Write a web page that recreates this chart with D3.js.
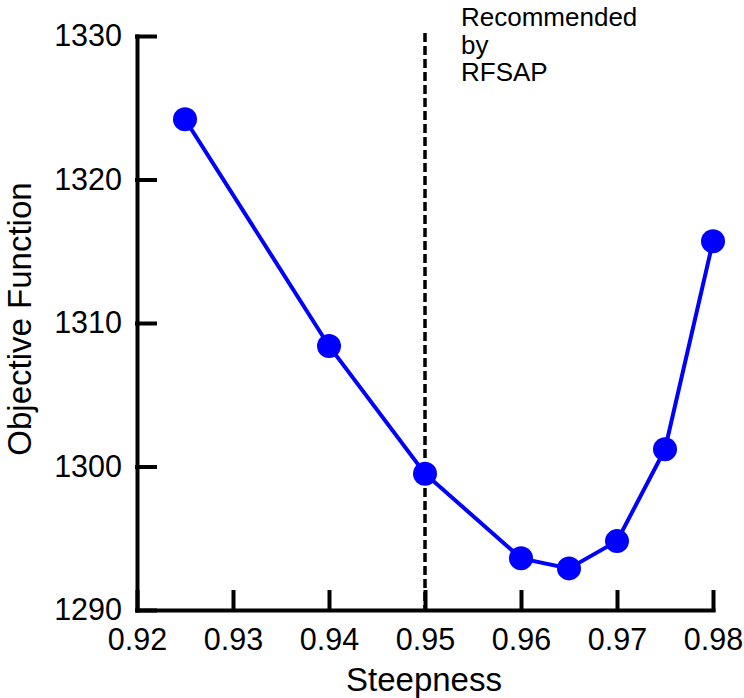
<!DOCTYPE html>
<html>
<head>
<meta charset="utf-8">
<script src="https://cdn.jsdelivr.net/npm/d3@7"></script>
<style>
  body { margin: 0; background: #fff; }
  text { font-family: "Liberation Sans", Arial, sans-serif; fill: #000; }
</style>
</head>
<body>
<div id="chart"></div>
<script>
// values
const steepness = [0.925, 0.94, 0.95, 0.96, 0.965, 0.97, 0.975, 0.98];
const objective = [1324.2, 1308.4, 1299.5, 1293.6, 1292.9, 1294.8, 1301.2, 1315.7];
const xTicks = [0.92, 0.93, 0.94, 0.95, 0.96, 0.97, 0.98];
const yTicks = [1290, 1300, 1310, 1320, 1330];
const recommended = 0.95;
const noteLines = ["Recommended", "by", "RFSAP"];

const w = 744, h = 698;
const margin = { top: 36, right: 31, bottom: 88, left: 137 };

const svg = d3.select("#chart")
    .append("svg")
    .attr("width", w)
    .attr("height", h);

var x = d3.scaleLinear()
    .domain([0.92, 0.98])
    .range([margin.left, w - margin.right]);

var y = d3.scaleLinear()
    .domain([1290, 1330])
    .range([h - margin.bottom, margin.top]);

// axes, ticks pointing inward
const xAxis = svg.append("g")
    .attr("transform", `translate(0, ${h - margin.bottom})`)
    .call(d3.axisBottom(x).tickValues(xTicks).tickFormat(d3.format(".2f"))
        .tickSize(-18).tickSizeOuter(0).tickPadding(18));

const yAxis = svg.append("g")
    .attr("transform", `translate(${margin.left}, 0)`)
    .call(d3.axisLeft(y).tickValues(yTicks).tickFormat(d3.format("d"))
        .tickSize(-18).tickSizeOuter(0).tickPadding(15));

[xAxis, yAxis].forEach(g => {
    g.selectAll(".domain, line")
        .attr("stroke", "#000")
        .attr("stroke-width", 4)
        .attr("stroke-linecap", "square");
    g.selectAll("text")
        .style("font-size", "30.5px")
        .style("font-family", "Liberation Sans, Arial, sans-serif")
        .attr("fill", "#000");
});

// dashed reference line
svg.append("line")
    .attr("x1", x(recommended))
    .attr("x2", x(recommended))
    .attr("y1", margin.top - 3)
    .attr("y2", h - margin.bottom)
    .attr("stroke", "#000")
    .attr("stroke-width", 3.5)
    .attr("stroke-dasharray", "9,4");

// note
svg.append("text")
    .attr("x", 461)
    .attr("y", 26)
    .style("font-size", "26px")
    .selectAll("tspan")
    .data(noteLines)
    .join("tspan")
    .attr("x", 461)
    .attr("dy", (d, i) => i == 0 ? 0 : 27.5)
    .text(d => d);

// series
const pts = steepness.map((s, i) => ({ s: s, v: objective[i] }));

svg.append("path")
    .datum(pts)
    .attr("fill", "none")
    .attr("stroke", "#0000ff")
    .attr("stroke-width", 4)
    .attr("d", d3.line().x(d => x(d.s)).y(d => y(d.v)));

svg.selectAll("circle")
    .data(pts)
    .join("circle")
    .attr("cx", d => x(d.s))
    .attr("cy", d => y(d.v))
    .attr("r", 12)
    .attr("fill", "#0000ff");

// axis titles
svg.append("text")
    .attr("x", (margin.left + w - margin.right) / 2 - 1)
    .attr("y", 691)
    .attr("text-anchor", "middle")
    .style("font-size", "33px")
    .text("Steepness");

svg.append("text")
    .attr("transform", `translate(31, ${(margin.top + h - margin.bottom) / 2 - 4}) rotate(-90)`)
    .attr("text-anchor", "middle")
    .style("font-size", "33px")
    .text("Objective Function");
</script>
</body>
</html>
